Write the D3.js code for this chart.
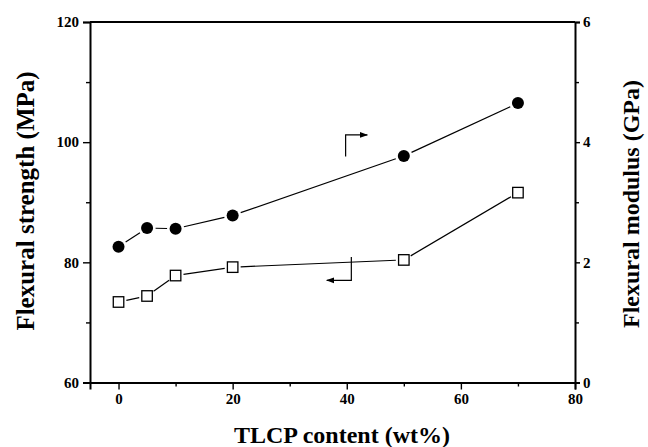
<!DOCTYPE html>
<html>
<head>
<meta charset="utf-8">
<script src="https://cdn.jsdelivr.net/npm/d3@7"></script>
<style>
  html, body { margin: 0; padding: 0; background: #fff; }
  svg { display: block; }
  text { font-family: "Liberation Serif", "Times New Roman", serif; font-weight: bold; fill: #000; }
</style>
</head>
<body>
<svg id="chart" width="648" height="447"></svg>
<script>
// TLCP content (wt%)
const content = [0, 5, 10, 20, 50, 70];
// Flexural strength (MPa), left axis
const strength = [73.4, 74.4, 77.8, 79.2, 80.4, 91.6];
// Flexural modulus (GPa), right axis
const modulus = [2.26, 2.57, 2.56, 2.78, 3.77, 4.65];

const xTicks = [0, 20, 40, 60, 80];
const xMinor = [10, 30, 50, 70];
const yLeftTicks = [60, 80, 100, 120];
const yLeftMinor = [70, 90, 110];
const yRightTicks = [0, 2, 4, 6];
const yRightMinor = [1, 3, 5];

const svg = d3.select("#chart");
const L = 90, R = 575, T = 22, B = 382.5;

const x = d3.scaleLinear().domain([-5, 80]).range([L, R]);
const yL = d3.scaleLinear().domain([60, 120]).range([B, T]);
const yR = d3.scaleLinear().domain([0, 6]).range([B, T]);

const fmt = d3.format("d");

// Axes with major (labelled) and minor ticks on the outside
function drawAxis(gen, scale, ticks, minor, transform, major, pad) {
  const g = svg.append("g").attr("transform", transform);
  g.call(gen(scale).tickValues(ticks).tickFormat(fmt).tickSize(major).tickPadding(pad));
  g.append("g").call(gen(scale).tickValues(minor).tickFormat("").tickSize(4))
    .select(".domain").remove();
  g.selectAll("path.domain").attr("stroke-width", 2);
  g.selectAll("line").attr("stroke-width", 1.4);
  g.selectAll("text").attr("font-size", 15)
    .style("font-family", '"Liberation Serif", serif').style("font-weight", "bold");
  return g;
}

drawAxis(d3.axisBottom, x, xTicks, xMinor, `translate(0,${B})`, 7, 4);
drawAxis(d3.axisLeft, yL, yLeftTicks, yLeftMinor, `translate(${L},0)`, 7, 4);
drawAxis(d3.axisRight, yR, yRightTicks, yRightMinor, `translate(${R},0)`, 5, 3);

// top border
svg.append("line").attr("x1", L).attr("x2", R).attr("y1", T).attr("y2", T)
  .attr("stroke", "#000").attr("stroke-width", 2);

// Axis titles
svg.append("text").attr("x", 342).attr("y", 443)
  .attr("text-anchor", "middle").attr("font-size", 24).text("TLCP content (wt%)");
svg.append("text").attr("transform", `translate(34,201) rotate(-90)`)
  .attr("text-anchor", "middle").attr("font-size", 25).text("Flexural strength (MPa)");
svg.append("text").attr("transform", `translate(639,204) rotate(-90)`)
  .attr("text-anchor", "middle").attr("font-size", 24).text("Flexural modulus (GPa)");

// Connecting segments, trimmed so they stop short of the markers
function drawSeries(vals, yScale, gap) {
  const pts = content.map((c, i) => [x(c), yScale(vals[i])]);
  for (let i = 0; i < pts.length - 1; i++) {
    const [x1, y1] = pts[i], [x2, y2] = pts[i + 1];
    const dx = x2 - x1, dy = y2 - y1, len = Math.hypot(dx, dy);
    const ux = dx / len, uy = dy / len;
    svg.append("line")
      .attr("x1", x1 + ux * gap).attr("y1", y1 + uy * gap)
      .attr("x2", x2 - ux * gap).attr("y2", y2 - uy * gap)
      .attr("stroke", "#000").attr("stroke-width", 1.2);
  }
  return pts;
}

drawSeries(modulus, yR, 8.5);
drawSeries(strength, yL, 8);

svg.append("g").selectAll("circle").data(content).join("circle")
  .attr("cx", d => x(d)).attr("cy", (d, i) => yR(modulus[i]))
  .attr("r", 6).attr("fill", "#000");

const s = 10.5;
svg.append("g").selectAll("rect").data(content).join("rect")
  .attr("x", d => x(d) - s / 2).attr("y", (d, i) => yL(strength[i]) - s / 2)
  .attr("width", s).attr("height", s)
  .attr("fill", "#fff").attr("stroke", "#000").attr("stroke-width", 1.3);

// Bent arrows pointing each curve to its axis
svg.append("defs").append("marker")
  .attr("id", "head").attr("viewBox", "0 0 10 10").attr("refX", 9).attr("refY", 5)
  .attr("markerWidth", 7).attr("markerHeight", 7).attr("orient", "auto")
  .append("path").attr("d", "M0,1.5 L10,5 L0,8.5 Z").attr("fill", "#000");

const arrowToModulus = [[39.8, 3.76], [39.8, 4.12], [43.6, 4.12]];
const arrowToStrength = [[40.8, 80.9], [40.8, 77.0], [36.5, 77.0]];

svg.append("path")
  .attr("d", d3.line()(arrowToModulus.map(([a, b]) => [x(a), yR(b)])))
  .attr("fill", "none").attr("stroke", "#000").attr("stroke-width", 1.2)
  .attr("marker-end", "url(#head)");
svg.append("path")
  .attr("d", d3.line()(arrowToStrength.map(([a, b]) => [x(a), yL(b)])))
  .attr("fill", "none").attr("stroke", "#000").attr("stroke-width", 1.2)
  .attr("marker-end", "url(#head)");
</script>
</body>
</html>
